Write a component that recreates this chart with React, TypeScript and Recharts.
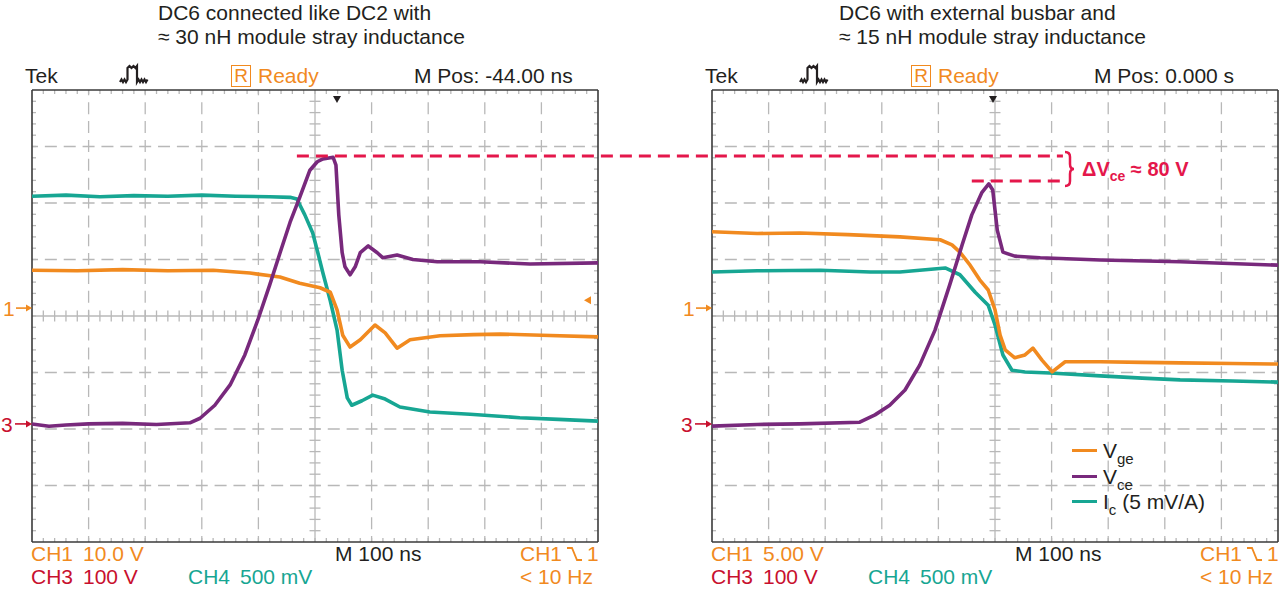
import React from 'react'
import { LineChart, Line, XAxis, YAxis, ReferenceLine, Legend } from 'recharts'

// time in ns (M 100 ns/div), values in screen divisions (0 = centre graticule line)
const leftIcTime = [-500, -440, -380, -320, -260, -200, -140, -80, -44, -32, -18, -4, 5, 14, 27, 39, 48, 57, 65, 83, 102, 124, 150, 203, 274, 362, 430, 500]
const leftIc = [2.12, 2.14, 2.11, 2.13, 2.12, 2.14, 2.12, 2.11, 2.1, 2.07, 1.79, 1.47, 1.12, 0.76, 0.27, -0.25, -0.96, -1.45, -1.58, -1.5, -1.4, -1.47, -1.61, -1.7, -1.74, -1.8, -1.83, -1.86]

const leftVgeTime = [-500, -420, -340, -260, -180, -115, -62, -27, 9, 27, 39, 49, 62, 80, 106, 124, 145, 168, 221, 280, 327, 400, 500]
const leftVge = [0.81, 0.8, 0.82, 0.8, 0.81, 0.76, 0.69, 0.58, 0.5, 0.42, 0.11, -0.34, -0.55, -0.42, -0.16, -0.3, -0.57, -0.42, -0.35, -0.33, -0.32, -0.34, -0.37]

const leftVceTime = [-500, -470, -440, -400, -340, -280, -221, -203, -177, -150, -124, -101, -80, -62, -44, -27, -9, 4, 14, 32, 37, 42, 48, 53, 62, 71, 80, 94, 110, 120, 145, 173, 216, 292, 380, 500]
const leftVce = [-1.91, -1.95, -1.93, -1.91, -1.9, -1.92, -1.89, -1.81, -1.58, -1.22, -0.69, -0.07, 0.55, 1.11, 1.66, 2.1, 2.58, 2.73, 2.78, 2.81, 2.67, 1.79, 1.12, 0.87, 0.73, 0.87, 1.12, 1.24, 1.12, 1.03, 1.08, 1.0, 0.96, 0.96, 0.92, 0.94]

const rightVgeTime = [-500, -420, -345, -260, -168, -97, -76, -62, -44, -27, -12, 0, 9, 18, 35, 53, 67, 83, 101, 124, 186, 260, 327, 420, 500]
const rightVge = [1.49, 1.46, 1.47, 1.44, 1.4, 1.35, 1.26, 1.13, 0.9, 0.64, 0.46, 0.11, -0.34, -0.6, -0.74, -0.69, -0.57, -0.78, -0.99, -0.81, -0.81, -0.82, -0.83, -0.84, -0.85]

const rightIcTime = [-500, -420, -309, -220, -168, -88, -62, -35, -12, 0, 14, 30, 53, 97, 186, 260, 327, 420, 500]
const rightIc = [0.78, 0.8, 0.81, 0.78, 0.78, 0.85, 0.73, 0.42, 0.19, -0.16, -0.69, -0.96, -0.99, -1.01, -1.06, -1.1, -1.13, -1.15, -1.17]

const rightVceTime = [-500, -420, -345, -239, -212, -186, -159, -133, -106, -80, -58, -41, -23, -11, -4, 4, 14, 35, 80, 186, 327, 500]
const rightVce = [-1.95, -1.92, -1.91, -1.88, -1.75, -1.58, -1.31, -0.87, -0.25, 0.55, 1.26, 1.79, 2.19, 2.34, 2.23, 1.52, 1.13, 1.06, 1.03, 0.99, 0.96, 0.9]

// peak markers for the delta annotation
const leftPeakLevel = 2.83
const rightPeakLevel = 2.39
const leftDashStart = -32
const rightDashStart = -41
const rightDashEnd = 120

// channel ground markers and trigger level
const ch1Level = 0.14
const ch3Level = -1.91
const trigLevel = 0.28

const legendRows = [
  { name: 'V', sub: 'ge', rest: '', key: 'vge' },
  { name: 'V', sub: 'ce', rest: '', key: 'vce' },
  { name: 'I', sub: 'c', rest: ' (5 mV/A)', key: 'ic' },
]

const ORANGE = '#f18a1f'
const PURPLE = '#78297c'
const TEAL = '#17a693'
const CRIMSON = '#c8102e'
const RED = '#e4174b'
const INK = '#231f20'
const GRID = '#b8b8b8'
const FONT = '"Liberation Sans", Arial, Helvetica, sans-serif'

const PLOT_W = 566
const PLOT_H = 452
const PLOT_TOP = 90
const LEFT_X0 = 32
const RIGHT_X0 = 712
const NS_PER_PX = 1000 / PLOT_W
const DIV_PER_PX = 8 / PLOT_H
const SHIFT_NS = (RIGHT_X0 - LEFT_X0) * NS_PER_PX

const legendColor: Record<string, string> = { vge: ORANGE, vce: PURPLE, ic: TEAL }

const toPoints = (ts: number[], vs: number[]) => ts.map((t, i) => ({ t, v: vs[i] }))
const levelY = (v: number) => PLOT_TOP + ((4 - v) / 8) * PLOT_H

function seg(key: string, a: [number, number], b: [number, number]) {
  return (
    <ReferenceLine
      key={key}
      segment={[{ x: a[0], y: a[1] }, { x: b[0], y: b[1] }]}
      stroke={GRID}
      strokeWidth={1.3}
    />
  )
}

// Tek style graticule: dashed divisions, solid centre cross, minor ticks
function graticule() {
  const items: React.ReactNode[] = []
  const dash = { stroke: GRID, strokeWidth: 1.3, strokeDasharray: '12 6.86', strokeDashoffset: 6 }
  for (let k = -4; k <= 4; k++) if (k !== 0) items.push(<ReferenceLine key={`gx${k}`} x={k * 100} {...dash} />)
  for (let k = -3; k <= 3; k++) if (k !== 0) items.push(<ReferenceLine key={`gy${k}`} y={k} {...dash} />)
  items.push(<ReferenceLine key="cx" x={0} stroke={GRID} strokeWidth={1.3} />)
  items.push(<ReferenceLine key="cy" y={0} stroke={GRID} strokeWidth={1.3} />)
  const bx = 4 * NS_PER_PX
  const by = 4 * DIV_PER_PX
  const cx = 5.5 * NS_PER_PX
  const cy = 5.5 * DIV_PER_PX
  for (let i = -24; i <= 24; i++) {
    const t = i * 20
    items.push(seg(`tt${i}`, [t, 4], [t, 4 - by]))
    items.push(seg(`tb${i}`, [t, -4], [t, -4 + by]))
    items.push(seg(`tc${i}`, [t, -cy], [t, cy]))
  }
  for (let i = -19; i <= 19; i++) {
    const v = i * 0.2
    items.push(seg(`vl${i}`, [-500, v], [-500 + bx, v]))
    items.push(seg(`vr${i}`, [500, v], [500 - bx, v]))
    items.push(seg(`vc${i}`, [-cx, v], [cx, v]))
  }
  const frame = { stroke: '#3a3a3a', strokeWidth: 1.6 }
  items.push(<ReferenceLine key="f1" x={-500} {...frame} />)
  items.push(<ReferenceLine key="f2" x={500} {...frame} />)
  items.push(<ReferenceLine key="f3" y={4} {...frame} />)
  items.push(<ReferenceLine key="f4" y={-4} {...frame} />)
  return items
}

function Txt({ x, y, size = 21, color = INK, bold = false, children }: any) {
  return (
    <div
      style={{
        position: 'absolute',
        left: x,
        top: y - size * 0.85,
        fontSize: size,
        lineHeight: 1,
        color,
        fontWeight: bold ? 700 : 400,
        whiteSpace: 'nowrap',
      }}
    >
      {children}
    </div>
  )
}

function ScopeLegend() {
  return (
    <div style={{ fontFamily: FONT, color: INK }}>
      {legendRows.map((r) => (
        <div key={r.key} style={{ display: 'flex', alignItems: 'center', height: 25.5 }}>
          <span style={{ display: 'inline-block', width: 25, height: 3, background: legendColor[r.key], marginRight: 6 }} />
          <span style={{ fontSize: 21, lineHeight: 1 }}>
            {r.name}
            <span style={{ fontSize: 15, position: 'relative', top: 6 }}>{r.sub}</span>
            {r.rest}
          </span>
        </div>
      ))}
    </div>
  )
}

function Header({ x0, title1, title2, titleX, pos }: any) {
  return (
    <>
      <Txt x={titleX} y={20}>{title1}</Txt>
      <Txt x={titleX} y={44}>{title2}</Txt>
      <Txt x={x0 - 7} y={83}>Tek</Txt>
      <div
        style={{
          position: 'absolute',
          left: x0 + 199,
          top: 65,
          width: 18,
          height: 20,
          border: `1.5px solid ${ORANGE}`,
          color: ORANGE,
          fontSize: 19,
          lineHeight: '20px',
          textAlign: 'center',
        }}
      >
        R
      </div>
      <Txt x={x0 + 226} y={83} color={ORANGE}>Ready</Txt>
      <Txt x={x0 + 382} y={83}>{pos}</Txt>
    </>
  )
}

function Footer({ x0, ch1 }: any) {
  return (
    <>
      <Txt x={x0 - 1} y={561} color={ORANGE}>CH1</Txt>
      <Txt x={x0 + 51} y={561} color={ORANGE}>{ch1}</Txt>
      <Txt x={x0 - 1} y={584} color={CRIMSON}>CH3</Txt>
      <Txt x={x0 + 51} y={584} color={CRIMSON}>100 V</Txt>
      <Txt x={x0 + 156} y={584} color={TEAL}>CH4</Txt>
      <Txt x={x0 + 208} y={584} color={TEAL}>500 mV</Txt>
      <Txt x={x0 + 303} y={561}>M 100 ns</Txt>
      <Txt x={x0 + 488} y={561} color={ORANGE}>CH1</Txt>
      <Txt x={x0 + 555} y={561} color={ORANGE}>1</Txt>
      <Txt x={x0 + 488} y={584} color={ORANGE}>&lt; 10 Hz</Txt>
    </>
  )
}

function Marks({ x0 }: any) {
  const y1 = levelY(ch1Level)
  const y3 = levelY(ch3Level)
  return (
    <g>
      <path
        d={`M${x0 + 88} 82 l1.5 -2.5 l1.5 2.5 l1.5 -2.5 l1.5 2.5 l1.5 -2.5 V68 l2 -2 l2 2 l2 -2 l2 2 l1.5 -2 V82 l1.5 -2.5 l1.5 2.5 l1.5 -2.5 l1.5 2.5 l1.5 -2.5 l1.5 2.5 l1.5 -2.5`}
        fill="none"
        stroke={INK}
        strokeWidth={2.2}
      />
      <text x={x0 - 29} y={y1 + 8} fontSize={21} fill={ORANGE} fontFamily={FONT}>1</text>
      <line x1={x0 - 16} y1={y1} x2={x0 - 5} y2={y1} stroke={ORANGE} strokeWidth={1.6} />
      <polygon points={`${x0 - 6},${y1 - 3.5} ${x0},${y1} ${x0 - 6},${y1 + 3.5}`} fill={ORANGE} />
      <text x={x0 - 31} y={y3 + 8} fontSize={21} fill={CRIMSON} fontFamily={FONT}>3</text>
      <line x1={x0 - 17} y1={y3} x2={x0 - 5} y2={y3} stroke={CRIMSON} strokeWidth={1.6} />
      <polygon points={`${x0 - 6},${y3 - 3.5} ${x0},${y3} ${x0 - 6},${y3 + 3.5}`} fill={CRIMSON} />
      <path d={`M${x0 + 535} 548 h5 l5 12 h5`} fill="none" stroke={ORANGE} strokeWidth={1.8} />
    </g>
  )
}

export default function App() {
  const margin = (x0: number) => ({
    top: PLOT_TOP,
    left: x0,
    right: 640 - x0 - PLOT_W,
    bottom: 589 - PLOT_TOP - PLOT_H,
  })
  const lineProps = { dataKey: 'v', strokeWidth: 3.6, strokeLinejoin: 'round', dot: false, activeDot: false, isAnimationActive: false } as any

  return (
    <div
      style={{
        position: 'absolute',
        left: 0,
        top: 0,
        width: 1280,
        height: 589,
        background: '#fff',
        fontFamily: FONT,
        overflow: 'hidden',
      }}
    >
      <style>{`.recharts-surface{overflow:visible}`}</style>

      <div style={{ position: 'absolute', left: 0, top: 0, zIndex: 2 }}>
        <LineChart width={640} height={589} margin={margin(LEFT_X0)}>
          <XAxis type="number" dataKey="t" domain={[-500, 500]} hide allowDataOverflow />
          <YAxis type="number" domain={[-4, 4]} hide allowDataOverflow />
          {graticule()}
          <Line {...lineProps} data={toPoints(leftIcTime, leftIc)} stroke={TEAL} name="Ic" />
          <Line {...lineProps} data={toPoints(leftVgeTime, leftVge)} stroke={ORANGE} name="Vge" />
          <Line {...lineProps} data={toPoints(leftVceTime, leftVce)} stroke={PURPLE} name="Vce" />
          <ReferenceLine
            segment={[{ x: leftDashStart, y: leftPeakLevel }, { x: rightDashEnd + SHIFT_NS, y: leftPeakLevel }]}
            stroke={RED}
            strokeWidth={3}
            strokeDasharray="12 7"
            ifOverflow="visible"
          />
        </LineChart>
      </div>

      <div style={{ position: 'absolute', left: 640, top: 0, zIndex: 1 }}>
        <LineChart width={640} height={589} margin={margin(RIGHT_X0 - 640)}>
          <XAxis type="number" dataKey="t" domain={[-500, 500]} hide allowDataOverflow />
          <YAxis type="number" domain={[-4, 4]} hide allowDataOverflow />
          {graticule()}
          <Line {...lineProps} data={toPoints(rightIcTime, rightIc)} stroke={TEAL} name="Ic" />
          <Line {...lineProps} data={toPoints(rightVgeTime, rightVge)} stroke={ORANGE} name="Vge" />
          <Line {...lineProps} data={toPoints(rightVceTime, rightVce)} stroke={PURPLE} name="Vce" />
          <ReferenceLine
            segment={[{ x: rightDashStart, y: rightPeakLevel }, { x: rightDashEnd, y: rightPeakLevel }]}
            stroke={RED}
            strokeWidth={3}
            strokeDasharray="12 7"
            ifOverflow="visible"
          />
          <Legend
            layout="vertical"
            align="center"
            verticalAlign="middle"
            wrapperStyle={{ left: 432, top: 438, width: 'auto' }}
            content={() => <ScopeLegend />}
          />
        </LineChart>
      </div>

      <svg width={1280} height={589} style={{ position: 'absolute', left: 0, top: 0, zIndex: 3, pointerEvents: 'none' }}>
        <Marks x0={LEFT_X0} />
        <Marks x0={RIGHT_X0} />
        <polygon points="333,96 341,96 337,103" fill={INK} />
        <polygon points="989,96 997,96 993,103" fill={INK} />
        <polygon
          points={`${LEFT_X0 + PLOT_W - 14},${levelY(trigLevel)} ${LEFT_X0 + PLOT_W - 7},${levelY(trigLevel) - 4} ${LEFT_X0 + PLOT_W - 7},${levelY(trigLevel) + 4}`}
          fill={ORANGE}
        />
        <path d="M1065 152 q5 0 5 5 v7 q0 5 4 5 q-4 0 -4 5 v7 q0 5 -5 5" fill="none" stroke={RED} strokeWidth={2.5} />
      </svg>

      <div style={{ position: 'absolute', left: 0, top: 0, zIndex: 4 }}>
        <Header x0={LEFT_X0} titleX={158} title1="DC6 connected like DC2 with" title2="≈ 30 nH module stray inductance" pos="M Pos: -44.00 ns" />
        <Header x0={RIGHT_X0} titleX={839} title1="DC6 with external busbar and" title2="≈ 15 nH module stray inductance" pos="M Pos: 0.000 s" />
        <Footer x0={LEFT_X0} ch1="10.0 V" />
        <Footer x0={RIGHT_X0} ch1="5.00 V" />
        <div
          style={{
            position: 'absolute',
            left: 1082,
            top: 176 - 17,
            fontSize: 20,
            lineHeight: 1,
            fontWeight: 700,
            color: RED,
            whiteSpace: 'nowrap',
          }}
        >
          ΔV<span style={{ fontSize: 14, position: 'relative', top: 5 }}>ce</span> ≈ 80 V
        </div>
      </div>
    </div>
  )
}
